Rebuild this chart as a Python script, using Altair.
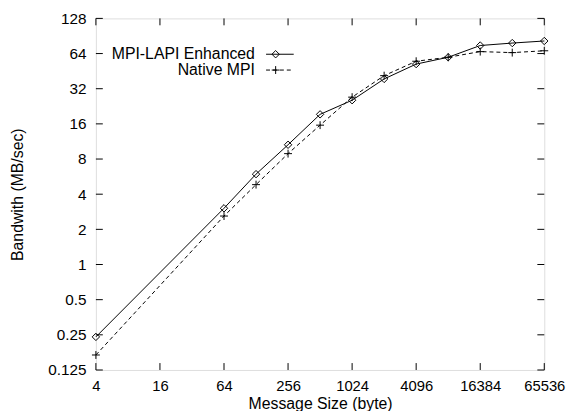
import altair as alt
import pandas as pd

sizes = [4, 64, 128, 256, 512, 1024, 2048, 4096, 8192, 16384, 32768, 65536]
enhanced = [0.24, 3.03, 5.94, 10.6, 19.3, 25.5, 38.8, 52, 59.5, 75, 78.7, 82]
native = [0.168, 2.6, 4.83, 8.9, 15.6, 27.1, 41.4, 55, 59.5, 66.5, 65.2, 67.6]
series_names = ["MPI-LAPI Enhanced", "Native MPI"]
x_ticks = [4, 16, 64, 256, 1024, 4096, 16384, 65536]
y_ticks = [0.125, 0.25, 0.5, 1, 2, 4, 8, 16, 32, 64, 128]

W, H = 454, 356
FONT = "Liberation Sans"
FS = 15.5
FS_T = 16
TICK = 7
PLUS = "M-1,0H1M0,-1V1"

df_e = pd.DataFrame({"size": sizes, "bw": enhanced})
df_n = pd.DataFrame({"size": sizes, "bw": native})
df_xt = pd.DataFrame({"size": x_ticks})
df_yt = pd.DataFrame({"bw": y_ticks})

xs = alt.Scale(type="log", base=2, domain=[4, 65536], nice=False)
ys = alt.Scale(type="log", base=2, domain=[0.125, 128], nice=False)

x_axis = alt.Axis(values=x_ticks, format="~g", grid=False, ticks=False, domain=False,
                  labelPadding=9, labelFontSize=15, labelFont=FONT, labelColor="black",
                  labelFlush=False, labelOverlap=False,
                  title="Message Size (byte)", titleFontSize=FS_T, titleFont=FONT,
                  titleFontWeight="normal", titleColor="black",
                  titleBaseline="alphabetic", titleY=38.5)
y_axis = alt.Axis(values=y_ticks, format="~g", grid=False, ticks=False, domain=False,
                  labelPadding=10, labelFontSize=FS, labelFont=FONT, labelColor="black",
                  labelFlush=False, labelOverlap=False,
                  title="Bandwith (MB/sec)", titleFontSize=FS_T, titleFont=FONT,
                  titleFontWeight="normal", titleColor="black",
                  titleBaseline="alphabetic", titleX=-74.5, titleY=H / 2, titleAngle=270)

X = alt.X("size:Q", scale=xs, axis=x_axis)
Y = alt.Y("bw:Q", scale=ys, axis=y_axis)

line_e = alt.Chart(df_e).mark_line(color="black", strokeWidth=1).encode(x=X, y=Y)
pts_e = alt.Chart(df_e).mark_point(shape="diamond", size=56, filled=False, color="black",
                                    strokeWidth=1, opacity=1).encode(x=X, y=Y)
line_n = alt.Chart(df_n).mark_line(color="black", strokeWidth=1, strokeDash=[4, 3]).encode(x=X, y=Y)
pts_n = alt.Chart(df_n).mark_point(shape=PLUS, size=64, filled=False, color="black",
                                    strokeWidth=1, opacity=1).encode(x=X, y=Y)

tick_b = alt.Chart(df_xt).mark_rule(color="black", strokeWidth=1).encode(
    x=X, y=alt.value(H), y2=alt.value(H - TICK))
tick_t = alt.Chart(df_xt).mark_rule(color="black", strokeWidth=1).encode(
    x=X, y=alt.value(0), y2=alt.value(TICK))
tick_l = alt.Chart(df_yt).mark_rule(color="black", strokeWidth=1).encode(
    y=Y, x=alt.value(0), x2=alt.value(TICK))
tick_r = alt.Chart(df_yt).mark_rule(color="black", strokeWidth=1).encode(
    y=Y, x=alt.value(W), x2=alt.value(W - TICK))

# legend (top-left, gnuplot style: label then sample)
leg_layers = []
leg_rows = [(series_names[0], 36.3, 41.6, None, "diamond", 56),
            (series_names[1], 52.3, 57.6, [4, 3], PLUS, 64)]
for name, ly, ty, dash, shp, sz in leg_rows:
    one = pd.DataFrame({"name": [name]})
    leg_layers.append(alt.Chart(one).mark_text(
        align="right", baseline="alphabetic", font=FONT, fontSize=FS_T, color="black"
    ).encode(text="name:N", x=alt.value(161), y=alt.value(ty)))
    rule_kw = dict(color="black", strokeWidth=1)
    if dash:
        rule_kw["strokeDash"] = dash
    leg_layers.append(alt.Chart(one).mark_rule(**rule_kw).encode(
        x=alt.value(172.3), x2=alt.value(200.3), y=alt.value(ly)))
    leg_layers.append(alt.Chart(one).mark_point(
        shape=shp, size=sz, filled=False, color="black", strokeWidth=1, opacity=1
    ).encode(x=alt.value(182), y=alt.value(ly)))

chart = alt.layer(
    line_n, line_e, pts_n, pts_e, tick_b, tick_t, tick_l, tick_r, *leg_layers
).properties(
    width=W, height=H,
    autosize=alt.AutoSizeParams(type="none"),
    padding={"left": 89, "top": 8, "right": 22, "bottom": 39},
).configure_view(stroke="black", strokeWidth=1).configure(background="white")

chart.save("out.html", embed_options={"renderer": "svg", "actions": False})
